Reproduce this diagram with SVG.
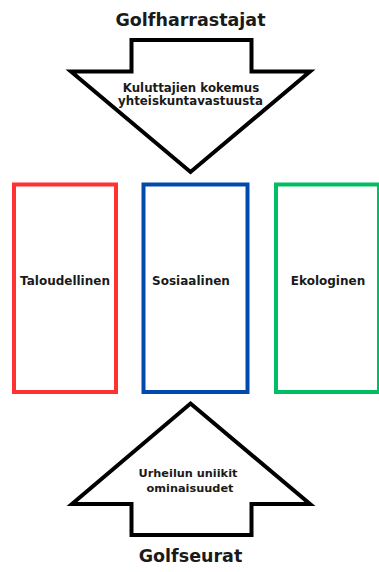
<svg xmlns="http://www.w3.org/2000/svg" width="379" height="572" viewBox="0 0 379 572">
<style>
.t{font-family:"DejaVu Sans","Liberation Sans",sans-serif;font-weight:bold;fill:#1a1a1a;text-anchor:middle}
.arrow{fill:#fff;stroke:#000;stroke-width:4;stroke-linejoin:miter}
.box{fill:#fff;stroke-width:4}
</style>
<rect width="379" height="572" fill="#fff"/>
<g id="golfharrastajat">
<text class="t" x="190.5" y="26" font-size="17.5">Golfharrastajat</text>
</g>
<g id="arrow-down">
<path class="arrow" d="M131.5,40 H251.5 V71.5 H310 L190.5,172 L71,71.5 H131.5 Z"/>
<text class="t" x="191" y="91.5" font-size="11.8">Kuluttajien kokemus</text>
<text class="t" x="190.5" y="104.5" font-size="11.8">yhteiskuntavastuusta</text>
</g>
<g id="taloudellinen">
<rect class="box" x="14" y="184.5" width="102" height="207.5" stroke="#ff3131"/>
<text class="t" x="65" y="285" font-size="12">Taloudellinen</text>
</g>
<g id="sosiaalinen">
<rect class="box" x="143.5" y="184.5" width="104" height="207.5" stroke="#004aad"/>
<text class="t" x="191" y="285" font-size="12">Sosiaalinen</text>
</g>
<g id="ekologinen">
<rect class="box" x="276" y="184.5" width="103" height="207.5" stroke="#00bf63"/>
<text class="t" x="328" y="285" font-size="12">Ekologinen</text>
</g>
<g id="arrow-up">
<path class="arrow" d="M190.5,403.5 L310,504 H251.5 V535 H131.5 V504 H72 Z"/>
<text class="t" x="188" y="477" font-size="11.3">Urheilun uniikit</text>
<text class="t" x="190" y="491.5" font-size="11.3">ominaisuudet</text>
</g>
<g id="golfseurat">
<text class="t" x="190.5" y="562" font-size="17.5">Golfseurat</text>
</g>
<g id="connectors"></g>
</svg>
